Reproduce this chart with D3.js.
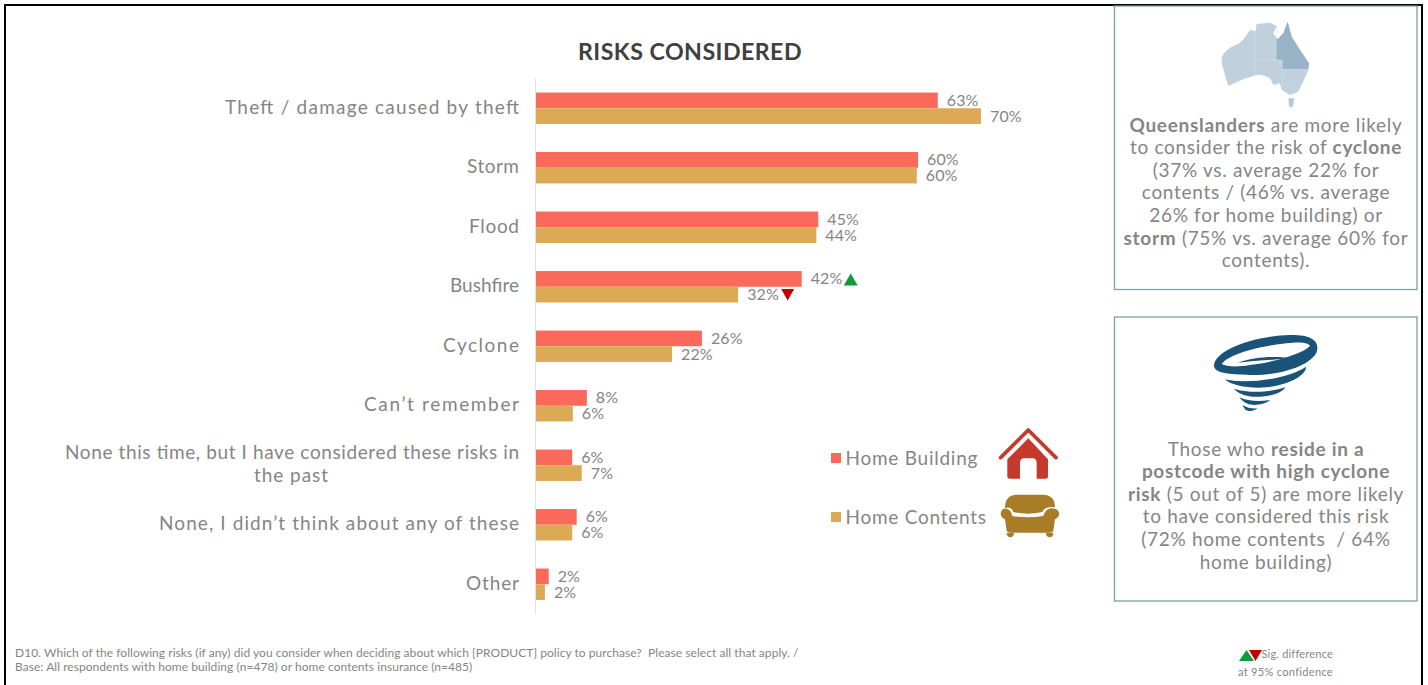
<!DOCTYPE html>
<html><head><meta charset="utf-8">
<script src="https://cdn.jsdelivr.net/npm/d3@7"></script>
<style>html,body{margin:0;padding:0;background:#fff;overflow:hidden}svg{display:block}text{font-family:Lato,sans-serif}</style>
</head><body><svg id="c" width="1428" height="685"></svg>
<script>
const categories=[["Theft / damage caused by theft"],["Storm"],["Flood"],["Bushfire"],["Cyclone"],["Can’t remember"],["None this time, but I have considered these risks in","the past"],["None, I didn’t think about any of these"],["Other"]];
const seriesNames=["Home Building","Home Contents"];
const homeBuilding=[63.2,60.1,44.4,41.8,26.1,8,5.7,6.4,2];
const homeContents=[70,59.9,44.1,31.8,21.4,5.8,7.2,5.7,1.4];
const labelsBuilding=["63%","60%","45%","42%","26%","8%","6%","6%","2%"];
const labelsContents=["70%","60%","44%","32%","22%","6%","7%","6%","2%"];
const sigBuilding=[0,0,0,1,0,0,0,0,0];
const sigContents=[0,0,0,-1,0,0,0,0,0];
const colors=["#fb695b","#dcaa55"];
const grey="#858585";
const box1Lines=[[["Queenslanders",1],[" are more likely",0]],[["to consider the risk of ",0],["cyclone",1]],[["(37% vs. average 22% for",0]],[["contents / (46% vs. average",0]],[["26% for home building) or",0]],[["storm",1],[" (75% vs. average 60% for",0]],[["contents).",0]]];
const box2Lines=[[["Those who ",0],["reside in a",1]],[["postcode with high cyclone",1]],[["risk",1],[" (5 out of 5) are more likely",0]],[["to have considered this risk",0]],[["(72% home contents  / 64%",0]],[["home building)",0]]];
const footnotes=["D10. Which of the following risks (if any) did you consider when deciding about which [PRODUCT] policy to purchase?  Please select all that apply. /","Base: All respondents with home building (n=478) or home contents insurance (n=485)"];

const svg=d3.select("#c");
const x=d3.scaleLinear().domain([0,70]).range([536,981]);
const y=d3.scaleBand().domain(d3.range(categories.length)).range([78.5,614]);
const barH=15.7;
const rowC=i=>y(i)+y.bandwidth()/2;
const catFit=[[294],[52],[50],[69],[76],[155],[454,74],[360],[53]];

svg.append("rect").attr("x",5).attr("y",5).attr("width",1417).attr("height",700).attr("fill","#fff").attr("stroke","#000").attr("stroke-width",2);
svg.append("text").attr("x",690).attr("y",60).attr("text-anchor","middle").attr("font-size",23.2).attr("font-weight",700).attr("letter-spacing",0.45).attr("fill","#404040").text("RISKS CONSIDERED");
svg.append("line").attr("x1",535.5).attr("x2",535.5).attr("y1",78).attr("y2",614).attr("stroke","#e3e3e3").attr("stroke-width",1);

const series=[{v:homeBuilding,l:labelsBuilding,s:sigBuilding,off:-barH},{v:homeContents,l:labelsContents,s:sigContents,off:0}];
series.forEach((se,k)=>{
  const g=svg.append("g");
  g.selectAll("rect").data(se.v).join("rect").attr("x",x(0)).attr("y",(d,i)=>rowC(i)+se.off).attr("width",d=>x(d)-x(0)).attr("height",barH).attr("fill",colors[k]);
  g.selectAll("text").data(se.v).join("text").attr("x",d=>x(d)+(k===0?9:9)).attr("y",(d,i)=>rowC(i)+se.off+barH/2+5.5)
    .attr("font-size",16).attr("letter-spacing",0.1).attr("fill",grey).text((d,i)=>se.l[i]);
  g.selectAll("path").data(se.v.map((d,i)=>({d,i})).filter(o=>se.s[o.i]!==0)).join("path")
    .attr("transform",o=>`translate(${x(o.d)+(k===0?49:49.5)},${rowC(o.i)+se.off+barH/2+(k===0?0.5:0)})`)
    .attr("d",o=>se.s[o.i]>0?"M-7,6 L0,-6 L7,6Z":"M-6.5,-5.5 L6.5,-5.5 L0,6Z")
    .attr("fill",o=>se.s[o.i]>0?"#109a3c":"#c00000");
});
const catG=svg.append("g");
categories.forEach((lines,i)=>{
  lines.forEach((t,j)=>{
    catG.append("text").attr("x",519).attr("y",rowC(i)+5.5+(j-(lines.length-1)/2)*23).attr("text-anchor",lines.length>1&&j==1?"middle":"end")
      .attr("dx",lines.length>1&&j==1?-228:0).attr("font-size",19).attr("textLength",catFit[i][j]).attr("lengthAdjust","spacing").attr("fill",grey).text(t);
  });
});
const legY=[458,517];
seriesNames.forEach((n,i)=>{
  svg.append("rect").attr("x",831).attr("y",legY[i]-5).attr("width",10).attr("height",10).attr("fill",colors[i]);
  svg.append("text").attr("x",845.5).attr("y",legY[i]+6.5).attr("font-size",19).attr("letter-spacing",0.75).attr("fill",grey).text(n);
});
const h=svg.append("g").attr("transform","translate(810,420) scale(0.3333)");
h.append("path").attr("d","M572,113 L655,30 L738,113").attr("fill","none").attr("stroke","#c4392b").attr("stroke-width",11).attr("stroke-linecap","round").attr("stroke-linejoin","round");
h.append("path").attr("fill","#c4392b").attr("d","M592,118 L655,55 L714,118 V170 Q714,176 708,176 H680 V130 Q680,115 668,115 H642 Q630,115 630,130 V176 H600 Q592,176 592,170 Z");
const s=svg.append("g").attr("transform","translate(810,420) scale(0.3333)").attr("fill","#a97c28");
s.append("path").attr("d","M585,264 Q585,225 620,224 H700 Q735,225 735,262 Q705,258 697,276 Q650,286 610,276 Q605,258 585,264 Z");
s.append("path").attr("d","M572,282 Q574,264 590,266 Q604,270 607,288 Q655,296 700,288 Q704,270 722,265 Q746,264 748,282 Q745,294 735,298 L730,332 Q728,338 720,338 H600 Q592,338 590,332 L585,298 Q574,294 572,282 Z");
s.append("path").attr("d","M590,339 H612 Q611,352 601,352 Q591,352 590,339 Z M708,339 H730 Q729,352 719,352 Q709,352 708,339 Z");
function box(yy,h_){svg.append("rect").attr("x",1114.5).attr("y",yy).attr("width",302.5).attr("height",h_).attr("fill","#fff").attr("stroke","#7f9ea6").attr("stroke-width",1.3);}
box(6,283.5);box(317,284);
function para(lines,y0,step){
  lines.forEach((segs,i)=>{
    const t=svg.append("text").attr("x",1266).attr("y",y0+i*step).attr("text-anchor","middle").attr("font-size",19).attr("letter-spacing",0.7).attr("fill",grey).style("white-space","pre");
    segs.forEach(sg=>t.append("tspan").attr("font-weight",sg[1]?700:400).text(sg[0]));
  });
}
para(box1Lines,131.5,22.6);
para(box2Lines,455.5,22.6);
const map=svg.append("g").attr("transform","translate(1110,0) scale(0.3333)");
map.append("path").attr("fill","#c0d0dc").attr("d","M335,172 Q345,150 365,140 Q395,130 405,112 L420,90 L437,93 L440,72 L480,68 L500,78 L490,100 L503,118 L520,100 L533,65 L545,110 L570,150 L597,190 L595,210 L582,240 L565,275 L540,285 L515,270 L510,250 L490,255 L480,235 Q460,222 440,225 Q400,235 355,258 L345,225 L335,190 Z");
map.append("path").attr("fill","#98b3c5").attr("d","M500,115 L503,118 L520,100 L533,65 L545,110 L570,150 L597,190 L595,208 L517,208 L517,180 L500,180 Z");
map.append("path").attr("fill","none").attr("stroke","#d5e0e8").attr("stroke-width",1.5).attr("d","M437,93 V225 M437,180 H517 V265 M500,78 V115 M517,208 H595 M517,250 L565,272");
map.append("path").attr("fill","#b5cbd9").attr("d","M535,295 L553,295 L549,318 L543,323 L537,318 Z");
const tor=svg.append("g").attr("transform","translate(1110,310) scale(0.3333)").attr("fill","#1b5278");
tor.append("path").attr("fill-rule","evenodd").attr("d","M312,168 C310,125 420,78 540,75 C600,74 625,90 622,118 C618,160 520,198 420,195 C360,193 314,190 312,168 Z M335,162 C350,170 380,172 420,165 C500,155 580,130 600,108 C596,98 570,95 530,100 C450,108 360,130 335,162 Z");
tor.append("path").attr("d","M385,158 C430,140 500,138 540,145 C490,150 430,152 385,158 Z");
tor.append("path").attr("d","M345,208 C400,222 530,210 588,170 C590,190 550,222 470,232 C420,236 365,228 345,208 Z");
tor.append("path").attr("d","M372,236 C420,252 490,245 526,232 C515,252 470,262 430,260 C405,258 385,250 372,236 Z");
tor.append("path").attr("d","M388,262 C415,275 450,275 480,270 C465,284 430,288 415,282 C402,278 394,270 388,262 Z");
tor.append("path").attr("d","M397,285 C412,294 425,296 442,295 C430,306 412,305 405,298 Z");
footnotes.forEach((t,i)=>svg.append("text").attr("x",15).attr("y",657+i*14).attr("font-size",12).attr("letter-spacing",0.05).attr("fill",grey).style("white-space","pre").text(t));
svg.append("path").attr("fill","#109a3c").attr("d","M1239,661 L1246.5,650 L1254,661 Z");
svg.append("path").attr("fill","#c00000").attr("d","M1249,650 H1262 L1255.5,661 Z");
svg.append("text").attr("x",1333).attr("y",658).attr("text-anchor","end").attr("font-size",11).attr("letter-spacing",0.2).attr("fill",grey).text("Sig. difference");
svg.append("text").attr("x",1333).attr("y",676).attr("text-anchor","end").attr("font-size",11).attr("letter-spacing",0.32).attr("fill",grey).text("at 95% confidence");
</script></body></html>
